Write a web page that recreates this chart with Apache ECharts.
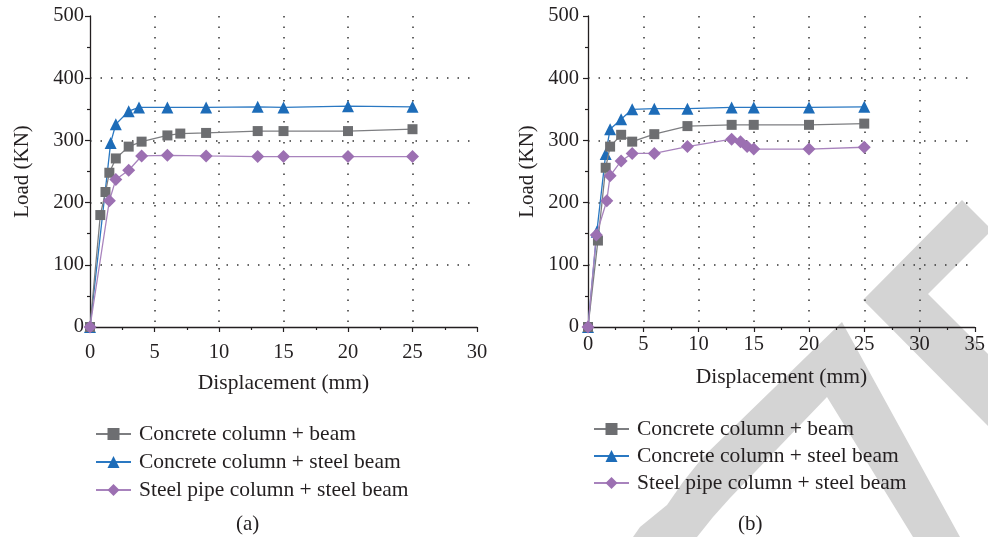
<!DOCTYPE html>
<html>
<head>
<meta charset="utf-8">
<script src="https://cdn.jsdelivr.net/npm/echarts@6/dist/echarts.min.js"></script>
<style>
html,body{margin:0;padding:0;background:#fff;}
#chart{width:988px;height:537px;}
</style>
</head>
<body>
<div id="chart"></div>
<script>
// ---- Data ----
const seriesNames = ['Concrete column + beam', 'Concrete column + steel beam', 'Steel pipe column + steel beam'];
const xTicksA = [0, 5, 10, 15, 20, 25, 30];
const xTicksB = [0, 5, 10, 15, 20, 25, 30, 35];
const yTicks = [0, 100, 200, 300, 400, 500];

// (a)
const dispA_CB  = [0, 0.8, 1.2, 1.5, 2, 3, 4, 6, 7, 9, 13, 15, 20, 25];
const loadA_CB  = [0, 180, 217, 248, 271, 290, 298, 308, 311, 312, 315, 315, 315, 318];
const dispA_CSB = [0, 1.6, 2, 3, 3.8, 6, 9, 13, 15, 20, 25];
const loadA_CSB = [0, 296, 326, 347, 353, 353, 353, 354, 353, 355, 354];
const dispA_SP  = [0, 1.5, 2, 3, 4, 6, 9, 13, 15, 20, 25];
const loadA_SP  = [0, 203, 237, 252, 275, 276, 275, 274, 274, 274, 274];

// (b)
const dispB_CB  = [0, 0.9, 1.6, 2, 3, 4, 6, 9, 13, 15, 20, 25];
const loadB_CB  = [0, 139, 256, 290, 309, 298, 310, 323, 325, 325, 325, 327];
const dispB_CSB = [0, 0.8, 1.6, 2, 3, 4, 6, 9, 13, 15, 20, 25];
const loadB_CSB = [0, 153, 278, 318, 334, 350, 351, 351, 353, 353, 353, 354];
const dispB_SP  = [0, 0.75, 1.7, 2, 3, 4, 6, 9, 13, 13.8, 14.4, 15, 20, 25];
const loadB_SP  = [0, 148, 203, 243, 267, 279, 279, 290, 302, 298, 290, 286, 286, 289];

const captions = ['(a)', '(b)'];
const xName = 'Displacement (mm)';
const yName = 'Load (KN)';

// ---- Styles ----
const FONT = 'Liberation Serif';
const TXT = '#231f20';
const colors = ['#6d6e71', '#1d6cb8', '#9c70b2'];
const lineColors = ['#7d7e81', '#2a78c2', '#a883bd'];
const symbols = ['rect', 'triangle', 'diamond'];
const symSizes = [10, 12, 13];

function zip(xs, ys) { return xs.map((x, i) => [x, ys[i]]); }

function mkX(idx, max, gap, margin) {
  return {
    type: 'value', gridIndex: idx, min: 0, max: max, interval: 5,
    name: xName, nameLocation: 'middle', nameGap: gap,
    nameTextStyle: { fontFamily: FONT, fontSize: 21.5, color: TXT },
    axisLine: { show: true, onZero: false, lineStyle: { color: TXT, width: 1.3 } },
    axisTick: { show: true, length: 5, lineStyle: { color: TXT, width: 1.2 } },
    minorTick: { show: true, splitNumber: 2, length: 3, lineStyle: { color: TXT, width: 1.2 } },
    axisLabel: { fontFamily: FONT, fontSize: 20.5, color: TXT, margin: margin },
    splitLine: { show: true, showMinLine: false, showMaxLine: false,
      lineStyle: { color: '#333', width: 1.5, type: [1.5, 9] } }
  };
}
function mkY(idx, gap, margin) {
  return {
    type: 'value', gridIndex: idx, min: 0, max: 500, interval: 100,
    name: yName, nameLocation: 'middle', nameGap: gap, nameRotate: 90,
    nameTextStyle: { fontFamily: FONT, fontSize: 21, color: TXT },
    axisLine: { show: true, onZero: false, lineStyle: { color: TXT, width: 1.3 } },
    axisTick: { show: true, length: 5, lineStyle: { color: TXT, width: 1.2 } },
    minorTick: { show: true, splitNumber: 2, length: 3, lineStyle: { color: TXT, width: 1.2 } },
    axisLabel: { fontFamily: FONT, fontSize: 20.5, color: TXT, margin: margin },
    splitLine: { show: true, showMinLine: false, showMaxLine: false,
      lineStyle: { color: '#333', width: 1.5, type: [1.5, 9] } }
  };
}
function mkSeries(k, idx, data) {
  return {
    type: 'line', name: seriesNames[k], xAxisIndex: idx, yAxisIndex: idx,
    data: data, symbol: symbols[k], symbolSize: symSizes[k], showAllSymbol: true,
    lineStyle: { color: lineColors[k], width: 1.3 },
    itemStyle: { color: colors[k] },
    z: 3 + (k === 1 ? 0 : 1),
    animation: false
  };
}
function mkLegend(left, top, gap) {
  return {
    orient: 'vertical', left: left, top: top, itemGap: gap,
    itemWidth: 35, itemHeight: 15,
    data: seriesNames,
    selectedMode: false,
    textStyle: { fontFamily: FONT, fontSize: 21.5, color: TXT, lineHeight: 20, padding: [0, 0, 0, 3] }
  };
}

const wm = '#d4d4d4';
const option = {
  backgroundColor: '#fff',
  animation: false,
  grid: [
    { left: 90, right: 511, top: 16, bottom: 210 },
    { left: 588, right: 13, top: 16, bottom: 210 }
  ],
  xAxis: [mkX(0, 30, 45, 15), mkX(1, 35, 39, 7)],
  yAxis: [mkY(0, 57, 6), mkY(1, 50, 9)],
  legend: [mkLegend(90, 418, 6), mkLegend(588, 413, 5)],
  series: [
    mkSeries(0, 0, zip(dispA_CB, loadA_CB)),
    mkSeries(1, 0, zip(dispA_CSB, loadA_CSB)),
    mkSeries(2, 0, zip(dispA_SP, loadA_SP)),
    mkSeries(0, 1, zip(dispB_CB, loadB_CB)),
    mkSeries(1, 1, zip(dispB_CSB, loadB_CSB)),
    mkSeries(2, 1, zip(dispB_SP, loadB_SP))
  ],
  graphic: [
    { type: 'polygon', z: -10, silent: true,
      shape: { points: [[962,200],[988,226],[988,234],[928,294],[988,354],[988,426],[863,300]] },
      style: { fill: wm } },
    { type: 'polygon', z: -10, silent: true,
      shape: { points: [[842,322],[960,537],[913,537],[827,397],[730,498],[713,517],[697,537],
                        [633,537],[640,527],[667,505],[683,482],[703,457]] },
      style: { fill: wm } },
    { type: 'text', left: 236, top: 514, z: 5,
      style: { text: captions[0], font: '21px "Liberation Serif"', fill: TXT } },
    { type: 'text', left: 738, top: 514, z: 5,
      style: { text: captions[1], font: '21px "Liberation Serif"', fill: TXT } }
  ]
};

const chart = echarts.init(document.getElementById('chart'), null, { renderer: 'canvas' });
chart.setOption(option);
</script>
</body>
</html>
